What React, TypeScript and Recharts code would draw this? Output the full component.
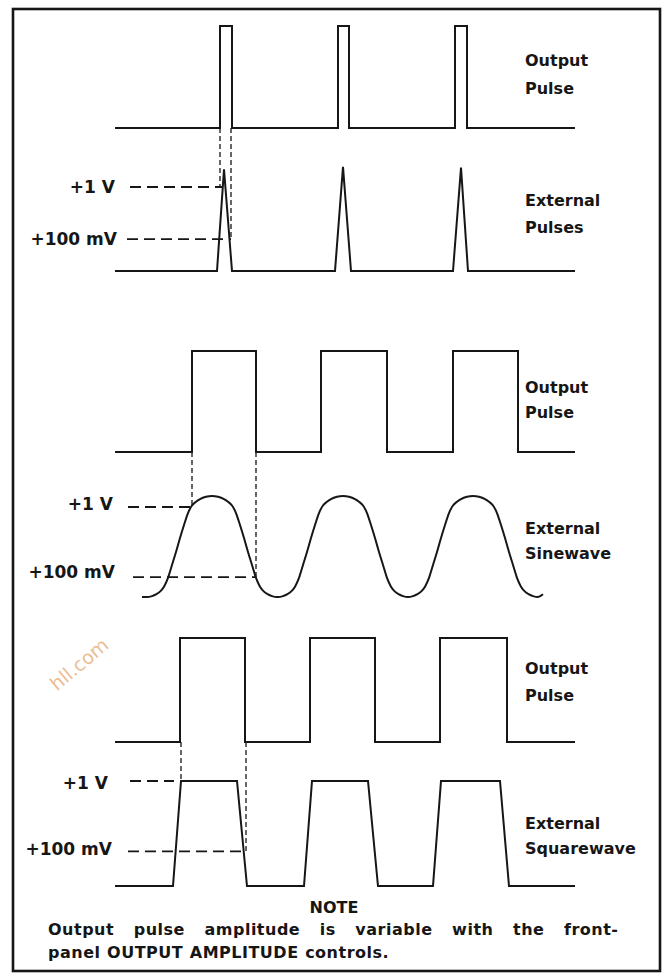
import React from 'react';
import { LineChart, Line, XAxis, YAxis, ReferenceLine } from 'recharts';

const W = 668;
const H = 976;
const T_MAX = 46;

// ---- data (time in arbitrary units, levels in per-trace units: 0 = ground, 1 = +1 V / pulse top) ----
// Output pulse (narrow) edges
const out1Edges = [10.5, 11.7, 22.3, 23.4, 34.0, 35.2];
// External pulses (triangular spikes)
const spikeStart = [10.2, 22.0, 33.8];
const spikePeakT = [10.9, 22.8, 34.6];
const spikeEnd = [11.7, 23.6, 35.3];
const spikePeakV = [1.21, 1.24, 1.23];
const lvl100mV_1 = 0.38;

// Output pulse (square, sinewave pair)
const out2Edges = [7.7, 14.1, 20.6, 27.2, 33.8, 40.3];
// External sinewave: peak times, and the half-cycle profile
// (time from the peak -> level)
const sinePeakT = [9.7, 22.8, 35.8];
const sineStart = { t: 2.7, v: 0.0 };
const sineEnd = { t: 42.8, v: 0.03 };
const halfDt = [0.0, 0.6, 1.2, 1.6, 2.0, 2.4, 2.8, 3.2, 3.6, 4.0, 4.4, 4.8, 5.2, 5.6, 6.0, 6.5];
const halfV = [1.122, 1.113, 1.087, 1.058, 1.017, 0.933, 0.8, 0.656, 0.5, 0.356, 0.213, 0.115, 0.06, 0.028, 0.01, 0.0];
const lvl100mV_2 = 0.22;

// Output pulse (square, squarewave pair)
const out3Edges = [6.5, 13.0, 19.5, 26.0, 32.5, 39.2];
// External squarewave (trapezoids)
const trapRiseStart = [5.8, 18.9, 31.8];
const trapRiseEnd = [6.6, 19.7, 32.6];
const trapFallStart = [12.2, 25.3, 38.5];
const trapFallEnd = [13.2, 26.3, 39.4];
const lvl100mV_3 = 0.33;

// connectors (times of output pulse edges projected down)
const conn1 = [{ t: 10.5, level: 1 }, { t: 11.6, level: lvl100mV_1 }];
const conn2 = [{ t: 7.7, level: 1 }, { t: 14.1, level: lvl100mV_2 }];
const conn3 = [{ t: 6.6, level: 1 }, { t: 13.1, level: lvl100mV_3 }];

// dashed level markers: [start t, end t]
const marks1 = { v1: [1.5, 10.7], mv: [1.2, 11.6] };
const marks2 = { v1: [1.3, 7.6], mv: [1.8, 14.0] };
const marks3 = { v1: [1.5, 5.9], mv: [1.3, 12.7] };

// ---- layout of each trace's vertical axis (pixel of level 0, pixels per unit) ----
const AX: Record<string, { base: number; unit: number }> = {
  o1: { base: 128, unit: 102 },
  e1: { base: 271, unit: 84 },
  o2: { base: 452, unit: 101 },
  e2: { base: 597, unit: 90 },
  o3: { base: 742, unit: 104 },
  e3: { base: 886, unit: 105 },
};
const domainOf = (id: string): [number, number] => [-(H - AX[id].base) / AX[id].unit, AX[id].base / AX[id].unit];
const onAxis = (from: string, v: number, to: string) => {
  const px = AX[from].base - v * AX[from].unit;
  return (AX[to].base - px) / AX[to].unit;
};

function steps(edges: number[]) {
  const pts = [{ t: 0, v: 0 }];
  edges.forEach((e, i) => {
    const a = i % 2;
    pts.push({ t: e, v: a });
    pts.push({ t: e, v: 1 - a });
  });
  pts.push({ t: T_MAX, v: 0 });
  return pts;
}

const out1Data = steps(out1Edges);
const out2Data = steps(out2Edges);
const out3Data = steps(out3Edges);

const ext1Data = (() => {
  const pts = [{ t: 0, v: 0 }];
  spikeStart.forEach((s, i) => {
    pts.push({ t: s, v: 0 });
    pts.push({ t: spikePeakT[i], v: spikePeakV[i] });
    pts.push({ t: spikeEnd[i], v: 0 });
  });
  pts.push({ t: T_MAX, v: 0 });
  return pts;
})();

const ext2Data = (() => {
  const pts: { t: number; v: number }[] = [sineStart];
  sinePeakT.forEach((p) => {
    for (let k = halfDt.length - 1; k > 0; k--) pts.push({ t: p - halfDt[k], v: halfV[k] });
    pts.push({ t: p, v: halfV[0] });
    for (let k = 1; k < halfDt.length; k++) pts.push({ t: p + halfDt[k], v: halfV[k] });
  });
  pts.push(sineEnd);
  return pts.filter((q) => q.t >= sineStart.t && q.t <= sineEnd.t).sort((a, b) => a.t - b.t);
})();

const ext3Data = (() => {
  const pts = [{ t: 0, v: 0 }];
  trapRiseStart.forEach((s, i) => {
    pts.push({ t: s, v: 0 });
    pts.push({ t: trapRiseEnd[i], v: 1 });
    pts.push({ t: trapFallStart[i], v: 1 });
    pts.push({ t: trapFallEnd[i], v: 0 });
  });
  pts.push({ t: T_MAX, v: 0 });
  return pts;
})();

const INK = '#161616';
const FONT = '"DejaVu Sans", "Liberation Sans", Arial, sans-serif';

const rightLabels = [
  { y: 60, text: 'Output' }, { y: 88, text: 'Pulse' },
  { y: 200, text: 'External' }, { y: 227, text: 'Pulses' },
  { y: 387, text: 'Output' }, { y: 412, text: 'Pulse' },
  { y: 528, text: 'External' }, { y: 553, text: 'Sinewave' },
  { y: 668, text: 'Output' }, { y: 695, text: 'Pulse' },
  { y: 823, text: 'External' }, { y: 848, text: 'Squarewave' },
];
const leftLabels = [
  { x: 115, y: 187, text: '+1 V' }, { x: 117, y: 239, text: '+100 mV' },
  { x: 113, y: 504, text: '+1 V' }, { x: 115, y: 572, text: '+100 mV' },
  { x: 108, y: 783, text: '+1 V' }, { x: 112, y: 849, text: '+100 mV' },
];

export default function App() {
  const hDash = '11 6';
  const vDash = '5 3';
  const levelLines = [
    { id: 'e1', marks: marks1, mv: lvl100mV_1 },
    { id: 'e2', marks: marks2, mv: lvl100mV_2 },
    { id: 'e3', marks: marks3, mv: lvl100mV_3 },
  ];
  const connectors = [
    { from: 'o1', to: 'e1', list: conn1 },
    { from: 'o2', to: 'e2', list: conn2 },
    { from: 'o3', to: 'e3', list: conn3 },
  ];
  return (
    <div style={{ position: 'absolute', left: 0, top: 0, width: W, height: H, background: '#fff' }}>
      <LineChart width={W} height={H} margin={{ top: 0, right: 93, bottom: 0, left: 115 }}>
        <XAxis type="number" dataKey="t" domain={[0, T_MAX]} hide allowDataOverflow />
        {Object.keys(AX).map((id) => (
          <YAxis key={id} yAxisId={id} type="number" domain={domainOf(id)} hide allowDataOverflow />
        ))}
        {levelLines.map((L) => (
          <ReferenceLine key={L.id + 'v1'} yAxisId={L.id} ifOverflow="visible"
            segment={[{ x: L.marks.v1[0], y: 1 }, { x: L.marks.v1[1], y: 1 }]}
            stroke={INK} strokeWidth={1.8} strokeDasharray={hDash} />
        ))}
        {levelLines.map((L) => (
          <ReferenceLine key={L.id + 'mv'} yAxisId={L.id} ifOverflow="visible"
            segment={[{ x: L.marks.mv[0], y: L.mv }, { x: L.marks.mv[1], y: L.mv }]}
            stroke={INK} strokeWidth={1.8} strokeDasharray={hDash} />
        ))}
        {connectors.flatMap((C) =>
          C.list.map((c, i) => (
            <ReferenceLine key={C.to + 'c' + i} yAxisId={C.to} ifOverflow="visible"
              segment={[{ x: c.t, y: onAxis(C.from, 0, C.to) }, { x: c.t, y: c.level }]}
              stroke={INK} strokeWidth={1.3} strokeDasharray={vDash} />
          ))
        )}
        <Line yAxisId="o1" data={out1Data} dataKey="v" type="linear" dot={false} stroke={INK} strokeWidth={2} isAnimationActive={false} />
        <Line yAxisId="e1" data={ext1Data} dataKey="v" type="linear" dot={false} stroke={INK} strokeWidth={2} isAnimationActive={false} />
        <Line yAxisId="o2" data={out2Data} dataKey="v" type="linear" dot={false} stroke={INK} strokeWidth={2} isAnimationActive={false} />
        <Line yAxisId="e2" data={ext2Data} dataKey="v" type="monotone" dot={false} stroke={INK} strokeWidth={2} isAnimationActive={false} />
        <Line yAxisId="o3" data={out3Data} dataKey="v" type="linear" dot={false} stroke={INK} strokeWidth={2} isAnimationActive={false} />
        <Line yAxisId="e3" data={ext3Data} dataKey="v" type="linear" dot={false} stroke={INK} strokeWidth={2} isAnimationActive={false} />
      </LineChart>
      <svg width={W} height={H} style={{ position: 'absolute', left: 0, top: 0, pointerEvents: 'none' }}>
        <rect x={13} y={9} width={647} height={962} fill="none" stroke={INK} strokeWidth={2.6} />
        <text x={79} y={664} transform="rotate(-40 79 664)" textAnchor="middle" dominantBaseline="central"
          fontFamily={FONT} fontSize={19} fill="#ebbd93">hll.com</text>
        {rightLabels.map((l, i) => (
          <text key={i} x={525} y={l.y} dominantBaseline="central" fontFamily={FONT} fontWeight="bold"
            fontSize={16} fill={INK}>{l.text}</text>
        ))}
        {leftLabels.map((l, i) => (
          <text key={i} x={l.x} y={l.y} textAnchor="end" dominantBaseline="central" fontFamily={FONT}
            fontWeight="bold" fontSize={17} fill={INK}>{l.text}</text>
        ))}
        <text x={334} y={907} textAnchor="middle" dominantBaseline="central" fontFamily={FONT} fontWeight="bold"
          fontSize={16} fill={INK}>NOTE</text>
        <text x={48} y={929} dominantBaseline="central" fontFamily={FONT} fontWeight="bold" fontSize={16}
          letterSpacing={0.5} wordSpacing={13.5} fill={INK}>Output pulse amplitude is variable with the front-</text>
        <text x={48} y={952} dominantBaseline="central" fontFamily={FONT} fontWeight="bold" fontSize={16}
          letterSpacing={0.5} wordSpacing={0.5} fill={INK}>panel OUTPUT AMPLITUDE controls.</text>
      </svg>
    </div>
  );
}
